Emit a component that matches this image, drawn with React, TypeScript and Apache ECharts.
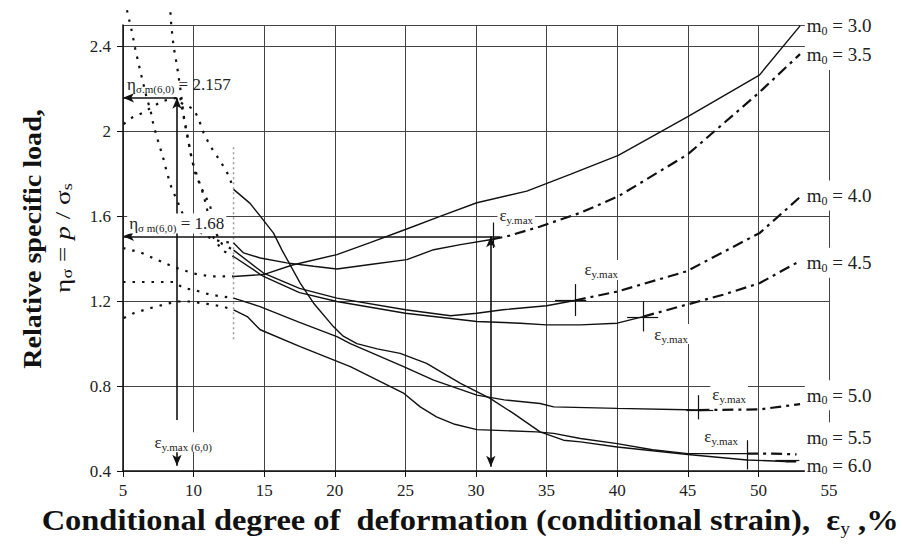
import React, { useEffect, useRef } from "react";
import * as echarts from "echarts";

const FF = "Liberation Serif";

// x ticks 5..55 step 5 ; y ticks 0.4..2.4 step 0.4
const X_MIN = 5, X_MAX = 55, X_STEP = 5;
const Y_MIN = 0.4, Y_MAX = 2.5, Y_STEP = 0.4;

// ---- m0 = 3.0
const m30Dot = [[5, 1.45], [6.2, 1.43], [7.4, 1.395], [8.6, 1.36], [10, 1.33], [11.2, 1.316], [12.83, 1.316]];
const m30Solid = [[12.83, 1.316], [14.95, 1.325], [17, 1.37], [20.15, 1.419], [22.5, 1.475], [25, 1.537], [27.5, 1.6], [30.06, 1.663], [33.6, 1.718], [36.67, 1.797], [40.08, 1.886], [45, 2.069], [50.07, 2.264], [52.95, 2.496]];
// ---- m0 = 3.5
const m35Dot = [[5.28, 2.57], [5.64, 2.466], [5.87, 2.387], [6.22, 2.284], [6.7, 2.151], [6.93, 2.104], [7.17, 2.025], [7.52, 1.946], [7.87, 1.868], [8.11, 1.805], [8.47, 1.726], [8.7, 1.694], [9.3, 1.6], [10.0, 1.54], [10.95, 1.505], [11.4, 1.49], [12.0, 1.48], [12.83, 1.474]];
const m35Solid = [[12.83, 1.474], [13.54, 1.427], [14.72, 1.403], [16.6, 1.38], [18.5, 1.364], [20.15, 1.351], [22.5, 1.372], [25.1, 1.395], [27, 1.442], [28.9, 1.466], [31.1, 1.49]];
const m35Dash = [[31.1, 1.49], [32.2, 1.505], [34.5, 1.55], [37.4, 1.616], [40.1, 1.694], [45, 1.891], [50.07, 2.183], [52.95, 2.363]];
// ---- m0 = 4.0
const m40Dot = [[8.36, 2.56], [8.42, 2.497], [8.58, 2.4], [8.82, 2.31], [9.06, 2.2], [9.3, 2.072], [9.53, 1.993], [9.77, 1.9], [10.1, 1.805], [10.5, 1.74], [10.95, 1.678], [11.18, 1.647], [11.5, 1.53], [12.0, 1.47], [12.83, 1.44]];
const m40Solid = [[12.83, 1.44], [14.95, 1.332], [17.5, 1.26], [20.15, 1.214], [25, 1.159], [28.2, 1.131], [30.06, 1.143], [31.9, 1.159], [35, 1.178], [37, 1.203]];
const m40Dash = [[37, 1.203], [40, 1.245], [44.9, 1.34], [50.1, 1.521], [52.95, 1.69]];
// ---- m0 = 4.5
const m45Dot = [[9.06, 2.157], [9.41, 2.025], [9.65, 1.946], [9.9, 1.86], [10.3, 1.78], [10.7, 1.7], [11.0, 1.62], [11.4, 1.5], [12.0, 1.44], [12.83, 1.41]];
const m45Solid = [[12.83, 1.41], [14.95, 1.316], [17.5, 1.24], [20.15, 1.198], [25, 1.143], [30.06, 1.104], [33.14, 1.096], [35, 1.088], [37.4, 1.088], [40, 1.096], [41.85, 1.127]];
const m45Dash = [[41.85, 1.127], [44.9, 1.183], [47.5, 1.23], [50.1, 1.285], [52.7, 1.38]];
// ---- m0 = 5.0
const m50Dot = [[5, 1.29], [8.6, 1.29], [9.3, 1.261], [10, 1.253], [11.2, 1.23], [12.83, 1.214]];
const m50Solid = [[12.83, 1.214], [14.66, 1.175], [17.5, 1.1], [20.15, 1.033], [21.1, 1.0], [24.87, 0.891], [27, 0.828], [30.06, 0.757], [32, 0.735], [34.54, 0.718], [35.5, 0.702], [40, 0.695], [45.75, 0.687]];
const m50Dash = [[45.75, 0.687], [50.1, 0.69], [52.95, 0.715]];
// ---- m0 = 5.5
const m55Dot = [[5.05, 1.12], [5.75, 1.143], [6.93, 1.167], [8.1, 1.187], [8.82, 1.198], [9.77, 1.198], [10.95, 1.187], [12.0, 1.175], [12.83, 1.159]];
const m55Solid = [[12.83, 1.159], [13.8, 1.127], [14.72, 1.065], [17.55, 0.986], [21.1, 0.891], [24.9, 0.765], [26.05, 0.702], [27.2, 0.655], [28.5, 0.62], [30.06, 0.595], [32, 0.59], [34.3, 0.584], [35.5, 0.577], [37.4, 0.553], [40, 0.529], [42.5, 0.5], [45, 0.482], [49.2, 0.482]];
const m55Dash = [[49.2, 0.482], [51, 0.482], [52.7, 0.478]];
// ---- m0 = 6.0
const m60Dot = [[5.04, 2.033], [5.64, 2.064], [6.46, 2.088], [7.17, 2.119], [7.87, 2.143], [8.8, 2.157], [9.06, 2.135], [10, 2.104], [10.36, 2.057], [10.7, 1.993], [11.18, 1.93], [11.65, 1.883], [12.1, 1.836], [12.5, 1.79], [12.83, 1.726]];
const m60Solid = [[12.83, 1.726], [14.0, 1.66], [14.72, 1.6], [15.66, 1.52], [16.26, 1.44], [17.55, 1.285], [18.5, 1.19], [19.9, 1.08], [20.6, 1.035], [21.56, 1.0], [23, 0.975], [24.63, 0.954], [26.5, 0.907], [28.9, 0.813], [31, 0.742], [32.65, 0.671], [34.54, 0.584], [36.2, 0.545], [37.4, 0.537], [40, 0.513], [45, 0.478], [49.2, 0.452], [51.9, 0.445]];
const m60Dash = [[51.9, 0.445], [52.7, 0.445]];

// dotted vertical boundary line
const boundary = [[12.83, 1.02], [12.83, 1.93]];

// m0 labels
const M0_VALUES = ["3.0", "3.5", "4.0", "4.5", "5.0", "5.5", "6.0"];
const M0_LABEL_Y = [2.496, 2.359, 1.697, 1.381, 0.757, 0.559, 0.427];
const M0_LABEL_X = 53.29;

// εy.max label positions (centers) and tick marks
const EMAX_LABELS = [[32.85, 1.602], [38.87, 1.347], [43.82, 1.045], [47.93, 0.762], [47.36, 0.564], [51.9, 0.375]];
const EMAX_TICKS = [[31.2, 1.45, 1.57], [37.0, 1.13, 1.28], [41.85, 1.057, 1.198], [45.75, 0.643, 0.757], [49.2, 0.407, 0.545], [51.93, 0.39, 0.513]];
const EMAX_HTICKS = [[35.6, 37.8, 1.206], [40.7, 42.9, 1.125], [44.9, 46.8, 0.687], [51.2, 52.9, 0.45]];

// eta annotations
const ETA_MAX = 2.157;
const ETA_MAX_X = 8.82;
const ETA_B = 1.505;
const ETA_B_X = 31.05;

const RICH = {
  n: { fontSize: 17, fontFamily: FF, color: "#222", lineHeight: 20 },
  s: { fontSize: 11, fontFamily: FF, color: "#222", lineHeight: 11, verticalAlign: "bottom" },
  m: { fontSize: 19, fontFamily: FF, color: "#222", lineHeight: 22 },
  ms: { fontSize: 12, fontFamily: FF, color: "#222", lineHeight: 12, verticalAlign: "bottom" },
};

function seg(data: number[][], kind: "dot" | "solid" | "dash") {
  const style: any = { color: "#111", width: 1.4, type: "solid" };
  if (kind === "dot") { style.width = 2.2; style.type = [2.5, 7]; }
  if (kind === "dash") { style.width = 2.2; style.type = [11, 5, 3, 5]; }
  return {
    type: "line", data, showSymbol: false, symbol: "none", clip: false, silent: true,
    lineStyle: style, z: 3,
  };
}

function ann(x: number, y: number, text: string, pos: string, bg = true, pad: number[] = [0, 2, 0, 2]) {
  return {
    coord: [x, y], symbol: "circle", symbolSize: 0,
    label: {
      show: true, position: pos, distance: 0, formatter: text, rich: RICH,
      fontFamily: FF, color: "#222",
      backgroundColor: bg ? "#fff" : "transparent", padding: pad,
    },
  };
}

export default function App() {
  const ref = useRef<HTMLDivElement>(null);
  useEffect(() => {
    document.body.style.margin = "0";
    document.body.style.overflow = "hidden";
    const chart = echarts.init(ref.current!, null, { renderer: "svg" });

    const arrowLines: any[] = [
      [{ coord: [ETA_MAX_X, ETA_MAX], symbol: "none" }, { coord: [X_MIN, ETA_MAX], symbol: "arrow" }],
      [{ coord: [ETA_MAX_X, 0.64], symbol: "none" }, { coord: [ETA_MAX_X, ETA_MAX], symbol: "arrow" }],
      [{ coord: [ETA_MAX_X, 0.5], symbol: "none" }, { coord: [ETA_MAX_X, 0.425], symbol: "arrow" }],
      [{ coord: [31.7, ETA_B], symbol: "none" }, { coord: [X_MIN, ETA_B], symbol: "arrow" }],
      [{ coord: [ETA_B_X, 0.42], symbol: "arrow" }, { coord: [ETA_B_X, ETA_B], symbol: "arrow" }],
    ];
    const tickLines: any[] = [
      ...EMAX_TICKS.map(([x, a, b]) => [{ coord: [x, a] }, { coord: [x, b] }]),
      ...EMAX_HTICKS.map(([a, b, y]) => [{ coord: [a, y] }, { coord: [b, y] }]),
    ];

    const marks: any[] = [
      ann(5.15, 2.222, "{n|η}{s|σ.m(6,0)}{n| = 2.157}", "right", false),
      ann(5.3, 1.565, "{n|η}{s|σ m(6,0)}{n| = 1.68}", "right", true),
      ann(9.27, 0.535, "{n|ε}{s|y.max (6,0)}", "inside", true),
      ...EMAX_LABELS.map(([x, y]) => ann(x, y, "{n|ε}{s|y.max}", "inside", true)),
      ...M0_VALUES.map((v, i) => ann(M0_LABEL_X, M0_LABEL_Y[i], `{m|m}{ms|0}{m| = ${v}}`, "right", true, [4, 2, 4, 2])),
    ];

    const option: any = {
      animation: false,
      backgroundColor: "#fff",
      textStyle: { fontFamily: FF },
      grid: { left: 123, right: 74, top: 25, bottom: 80, containLabel: false },
      xAxis: {
        type: "value", min: X_MIN, max: X_MAX, interval: X_STEP,
        axisLine: { show: true, lineStyle: { color: "#111", width: 1.5 } },
        axisTick: { show: true, length: 6, lineStyle: { color: "#111" } },
        splitLine: { show: true, lineStyle: { color: "#444", width: 1 } },
        axisLabel: { fontFamily: FF, fontSize: 17, color: "#222", margin: 11 },
      },
      yAxis: {
        type: "value", min: Y_MIN, max: Y_MAX, interval: Y_STEP,
        axisLine: { show: true, lineStyle: { color: "#111", width: 1.5 } },
        axisTick: { show: true, length: 6, lineStyle: { color: "#111" } },
        splitLine: { show: true, lineStyle: { color: "#444", width: 1 } },
        axisLabel: { fontFamily: FF, fontSize: 17, color: "#222", margin: 12, showMaxLabel: false },
      },
      series: [
        seg(m30Dot, "dot"), seg(m30Solid, "solid"),
        seg(m35Dot, "dot"), seg(m35Solid, "solid"), seg(m35Dash, "dash"),
        seg(m40Dot, "dot"), seg(m40Solid, "solid"), seg(m40Dash, "dash"),
        seg(m45Dot, "dot"), seg(m45Solid, "solid"), seg(m45Dash, "dash"),
        seg(m50Dot, "dot"), seg(m50Solid, "solid"), seg(m50Dash, "dash"),
        seg(m55Dot, "dot"), seg(m55Solid, "solid"), seg(m55Dash, "dash"),
        seg(m60Dot, "dot"), seg(m60Solid, "solid"), seg(m60Dash, "dash"),
        {
          type: "line", data: boundary, showSymbol: false, symbol: "none", silent: true,
          lineStyle: { color: "#999", width: 1.5, type: [2, 3] }, z: 2,
        },
        {
          type: "line", data: [], silent: true, z: 4,
          markLine: {
            silent: true, symbol: ["none", "none"], symbolSize: [7, 11],
            label: { show: false }, lineStyle: { color: "#111", width: 1.6, type: "solid" },
            data: arrowLines, animation: false,
          },
        },
        {
          type: "line", data: [], silent: true, z: 4,
          markLine: {
            silent: true, symbol: ["none", "none"],
            label: { show: false }, lineStyle: { color: "#111", width: 1.2, type: "solid" },
            data: tickLines, animation: false,
          },
        },
        {
          type: "line", data: [], silent: true, z: 6,
          markPoint: { silent: true, data: marks, animation: false },
        },
      ],
      graphic: [
        {
          type: "text", x: 32, y: 239, rotation: Math.PI / 2, scaleX: 1.08,
          style: { text: "Relative specific load,", font: `bold 26px "${FF}"`, fill: "#111", align: "center", verticalAlign: "middle" },
        },
        {
          type: "text", x: 63, y: 238, rotation: Math.PI / 2, scaleX: 1.3,
          style: {
            text: "{a|η}{b|σ}{a| = }{i|p}{a| / σ}{b|s}",
            align: "center", verticalAlign: "middle",
            rich: {
              a: { fontSize: 21, fontFamily: FF, fill: "#111", lineHeight: 24 },
              i: { fontSize: 21, fontFamily: FF, fontStyle: "italic", fill: "#111", lineHeight: 24 },
              b: { fontSize: 14, fontFamily: FF, fill: "#111", lineHeight: 14, verticalAlign: "bottom" },
            },
          },
        },
        {
          type: "text", x: 470, y: 521, scaleX: 1.12,
          style: {
            text: "{a|Conditional degree of  deformation (conditional strain),  ε}{b|y}{a| ,%}",
            align: "center", verticalAlign: "middle",
            rich: {
              a: { fontSize: 29, fontWeight: "bold", fontFamily: FF, fill: "#111", lineHeight: 32 },
              b: { fontSize: 17, fontFamily: FF, fill: "#111", lineHeight: 17, verticalAlign: "bottom" },
            },
          },
        },
      ],
    };
    chart.setOption(option);
    return () => chart.dispose();
  }, []);
  return <div ref={ref} style={{ width: 903, height: 551 }} />;
}
